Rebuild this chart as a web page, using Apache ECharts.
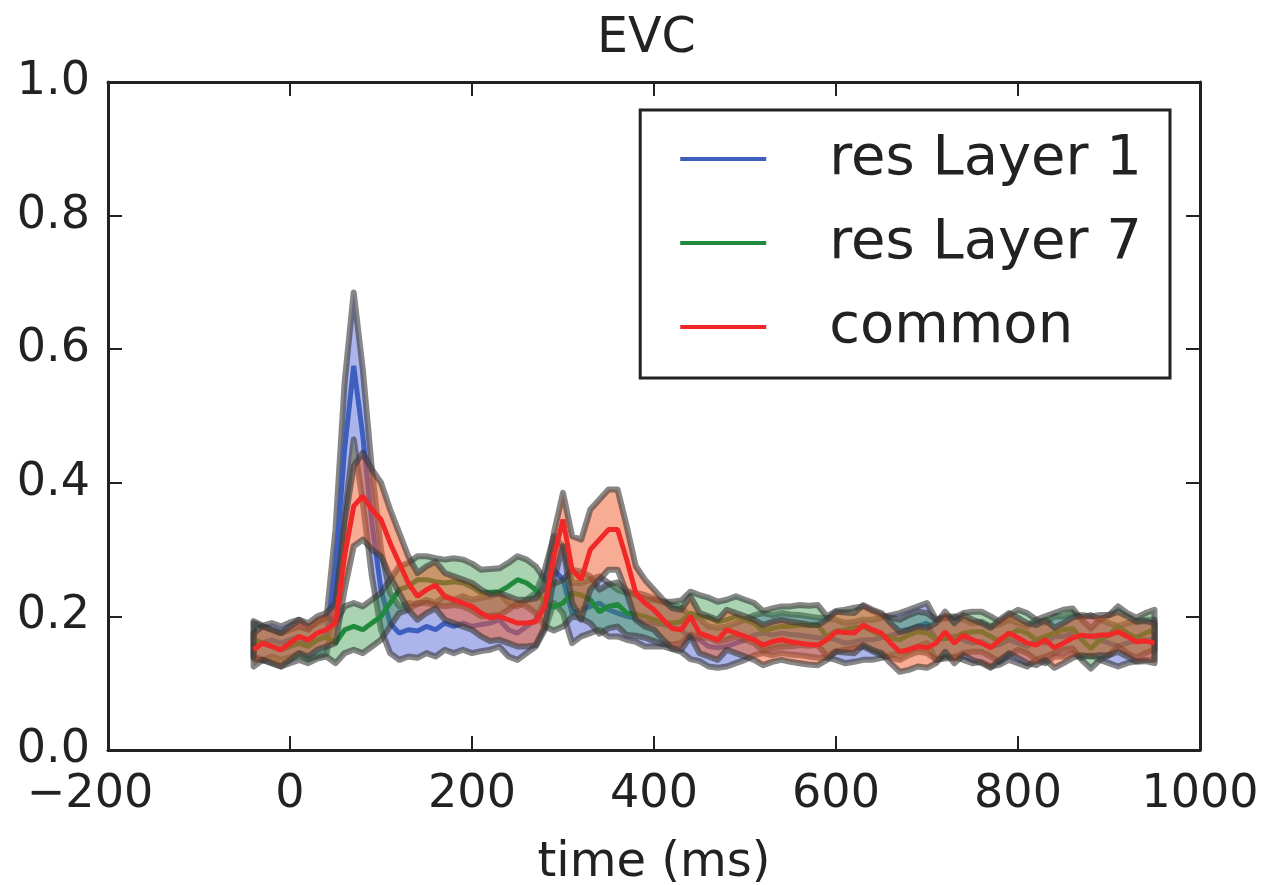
<!DOCTYPE html>
<html>
<head>
<meta charset="utf-8">
<script src="https://cdn.jsdelivr.net/npm/echarts@6/dist/echarts.min.js"></script>
<style>
html, body { margin: 0; padding: 0; background: #fff; }
#main { width: 1268px; height: 885px; }
</style>
</head>
<body>
<div id="main"></div>
<script>
// sample grid: -40 .. 950 ms, every 10 ms
var t0 = -40, step = 10, nPts = 100;
var time = [];
for (var i = 0; i < nPts; i++) time.push(t0 + i * step);

// res Layer 1 (blue) mean and half band width
var layer1 = [0.165,0.16,0.165,0.16,0.165,0.17,0.16,0.165,0.17,0.27,
	0.45,0.575,0.47,0.34,0.24,0.19,0.175,0.18,0.178,0.185,
	0.18,0.19,0.185,0.19,0.185,0.188,0.19,0.195,0.18,0.175,
	0.185,0.195,0.225,0.27,0.255,0.205,0.21,0.215,0.22,0.21,
	0.205,0.2,0.197,0.19,0.19,0.188,0.184,0.18,0.168,0.165,
	0.155,0.153,0.155,0.16,0.165,0.172,0.175,0.172,0.175,0.173,
	0.172,0.17,0.168,0.168,0.165,0.16,0.162,0.165,0.165,0.168,
	0.172,0.175,0.18,0.185,0.19,0.165,0.17,0.17,0.165,0.16,
	0.162,0.155,0.158,0.165,0.16,0.155,0.165,0.16,0.17,0.17,
	0.175,0.168,0.172,0.165,0.16,0.155,0.16,0.163,0.165,0.165];
var layer1Err = [0.028,0.026,0.025,0.025,0.026,0.025,0.024,0.025,0.026,0.06,
	0.1,0.11,0.1,0.08,0.06,0.045,0.04,0.04,0.04,0.04,
	0.04,0.04,0.04,0.04,0.04,0.04,0.04,0.04,0.04,0.04,
	0.04,0.04,0.045,0.05,0.05,0.045,0.04,0.04,0.04,0.04,
	0.035,0.035,0.035,0.035,0.035,0.033,0.033,0.033,0.032,0.032,
	0.03,0.03,0.03,0.03,0.03,0.03,0.03,0.03,0.03,0.03,
	0.03,0.03,0.03,0.03,0.03,0.03,0.03,0.03,0.03,0.03,
	0.03,0.03,0.03,0.03,0.03,0.03,0.03,0.03,0.03,0.03,
	0.03,0.03,0.03,0.03,0.03,0.03,0.03,0.03,0.03,0.03,
	0.03,0.03,0.03,0.03,0.03,0.03,0.03,0.03,0.03,0.03];

// res Layer 7 (green)
var layer7 = [0.165,0.16,0.155,0.15,0.155,0.16,0.155,0.165,0.17,0.16,
	0.18,0.185,0.18,0.19,0.2,0.22,0.24,0.245,0.255,0.255,
	0.252,0.25,0.252,0.25,0.244,0.235,0.236,0.237,0.245,0.255,
	0.25,0.24,0.22,0.214,0.22,0.235,0.232,0.225,0.207,0.215,
	0.218,0.205,0.203,0.2,0.195,0.19,0.19,0.192,0.205,0.2,
	0.198,0.192,0.195,0.2,0.195,0.19,0.178,0.182,0.185,0.185,
	0.187,0.186,0.187,0.17,0.178,0.18,0.183,0.185,0.178,0.172,
	0.168,0.165,0.172,0.177,0.175,0.165,0.167,0.168,0.175,0.177,
	0.177,0.17,0.162,0.172,0.18,0.175,0.165,0.17,0.175,0.18,
	0.182,0.165,0.152,0.165,0.172,0.185,0.175,0.168,0.175,0.18];
var layer7Err = [0.025,0.025,0.025,0.025,0.025,0.025,0.025,0.028,0.03,0.03,
	0.035,0.035,0.035,0.035,0.035,0.035,0.035,0.035,0.035,0.035,
	0.035,0.035,0.035,0.035,0.035,0.035,0.035,0.035,0.035,0.035,
	0.035,0.035,0.035,0.035,0.035,0.035,0.035,0.035,0.033,0.033,
	0.033,0.033,0.032,0.032,0.032,0.032,0.032,0.032,0.032,0.032,
	0.03,0.03,0.03,0.03,0.03,0.03,0.03,0.03,0.03,0.03,
	0.03,0.03,0.03,0.03,0.03,0.03,0.03,0.03,0.03,0.03,
	0.03,0.03,0.03,0.03,0.03,0.03,0.03,0.03,0.03,0.03,
	0.03,0.03,0.03,0.03,0.03,0.03,0.03,0.03,0.03,0.03,
	0.03,0.03,0.03,0.03,0.03,0.03,0.03,0.03,0.03,0.03];

// common (red)
var common = [0.15,0.16,0.155,0.15,0.16,0.17,0.165,0.175,0.18,0.19,
	0.29,0.365,0.38,0.36,0.345,0.31,0.28,0.25,0.23,0.24,
	0.247,0.23,0.225,0.22,0.215,0.205,0.198,0.2,0.195,0.19,
	0.19,0.192,0.215,0.29,0.345,0.27,0.255,0.3,0.315,0.33,
	0.33,0.285,0.235,0.22,0.21,0.195,0.182,0.18,0.2,0.175,
	0.17,0.165,0.18,0.175,0.17,0.165,0.157,0.162,0.165,0.162,
	0.16,0.158,0.157,0.165,0.177,0.176,0.175,0.187,0.18,0.175,
	0.16,0.147,0.15,0.155,0.153,0.16,0.177,0.16,0.172,0.165,
	0.16,0.153,0.165,0.175,0.168,0.16,0.157,0.165,0.153,0.16,
	0.168,0.172,0.17,0.172,0.172,0.177,0.17,0.162,0.163,0.16];
var commonErr = [0.025,0.025,0.025,0.025,0.025,0.025,0.025,0.025,0.025,0.03,
	0.05,0.06,0.065,0.06,0.055,0.05,0.045,0.04,0.035,0.035,
	0.035,0.035,0.035,0.035,0.035,0.035,0.035,0.035,0.035,0.035,
	0.035,0.035,0.03,0.035,0.04,0.05,0.06,0.06,0.06,0.06,
	0.06,0.05,0.04,0.035,0.03,0.03,0.03,0.03,0.03,0.03,
	0.03,0.03,0.03,0.03,0.03,0.03,0.03,0.03,0.03,0.03,
	0.03,0.03,0.03,0.03,0.03,0.03,0.03,0.03,0.03,0.03,
	0.03,0.03,0.03,0.03,0.03,0.03,0.03,0.03,0.03,0.03,
	0.03,0.03,0.03,0.03,0.03,0.03,0.03,0.03,0.03,0.03,
	0.03,0.03,0.03,0.03,0.03,0.03,0.03,0.03,0.03,0.03];

var names = ['res Layer 1', 'res Layer 7', 'common'];
var lineColors = ['#3f5fbf', '#218a3c', '#f02828'];
var fillColors = ['rgba(70,90,210,0.45)', 'rgba(50,150,70,0.42)', 'rgba(240,90,40,0.5)'];

var chart = echarts.init(document.getElementById('main'));

// shaded band drawn as one polygon (upper edge forward, lower edge back)
function band(mean, err, fill, z) {
	var data = [];
	for (var i = 0; i < time.length; i++) data.push([time[i], mean[i] - err[i], mean[i] + err[i]]);
	return {
		type: 'custom',
		silent: true,
		z: z,
		data: data,
		encode: { x: 0, y: [1, 2] },
		renderItem: function (params, api) {
			if (params.dataIndex !== 0) return null;
			var up = [], lo = [];
			for (var k = 0; k < data.length; k++) {
				up.push(api.coord([data[k][0], data[k][2]]));
				lo.unshift(api.coord([data[k][0], data[k][1]]));
			}
			return {
				type: 'polygon',
				shape: { points: up.concat(lo) },
				style: { fill: fill, stroke: 'rgba(55,55,55,0.6)', lineWidth: 6, lineJoin: 'round' }
			};
		}
	};
}

function meanLine(name, mean, color, z) {
	var data = [];
	for (var i = 0; i < time.length; i++) data.push([time[i], mean[i]]);
	return {
		type: 'line', name: name, data: data, z: z,
		showSymbol: false, animation: false,
		lineStyle: { color: color, width: 5 },
		itemStyle: { color: color }
	};
}

var means = [layer1, layer7, common];
var errs = [layer1Err, layer7Err, commonErr];
var series = [];
for (var s = 0; s < 3; s++) {
	series.push(band(means[s], errs[s], fillColors[s], 2 + s * 2));
	series.push(meanLine(names[s], means[s], lineColors[s], 3 + s * 2));
}

var axisBase = {
	axisLine: { show: true, onZero: false, lineStyle: { color: '#222', width: 3 } },
	axisTick: { show: true, inside: true, length: 14, lineStyle: { color: '#222', width: 2 } },
	splitLine: { show: false }
};

option = {
	animation: false,
	backgroundColor: '#fff',
	title: {
		text: 'EVC',
		left: 592, top: 10,
		textStyle: { fontFamily: 'DejaVu Sans', fontWeight: 'normal', fontSize: 49, color: '#222' }
	},
	grid: { left: 108, right: 68, top: 82, bottom: 135, outerBoundsMode: 'none' },
	legend: {
		data: names,
		orient: 'vertical',
		right: 98, top: 110,
		backgroundColor: '#fff',
		borderColor: '#222', borderWidth: 3, borderRadius: 0,
		padding: [18, 28, 20, 40],
		itemWidth: 86, itemHeight: 4, itemGap: 22,
		icon: 'rect',
		textStyle: { fontFamily: 'DejaVu Sans', fontSize: 56, color: '#222', lineHeight: 62, padding: [0, 0, 0, 58] }
	},
	xAxis: [
		Object.assign({}, axisBase, {
			type: 'value', position: 'bottom', min: -200, max: 1000, interval: 200,
			name: 'time (ms)', nameLocation: 'middle', nameGap: 90,
			nameTextStyle: { fontFamily: 'DejaVu Sans', fontSize: 48, color: '#222' },
			axisLabel: {
				margin: 22, fontFamily: 'DejaVu Sans', fontSize: 46, color: '#222',
				formatter: function (v) {
					var s = String(v).replace('-', '\u2212');
					return v === -200 ? '{l|' + s + '}' : s;
				},
				rich: { l: { fontFamily: 'DejaVu Sans', fontSize: 46, color: '#222', padding: [0, 36, 0, 0] } }
			}
		}),
		Object.assign({}, axisBase, {
			type: 'value', position: 'top', min: -200, max: 1000, interval: 200,
			axisLabel: { show: false }
		})
	],
	yAxis: [
		Object.assign({}, axisBase, {
			type: 'value', position: 'left', min: 0, max: 1, interval: 0.2,
			axisLabel: {
				margin: 18, fontFamily: 'DejaVu Sans', fontSize: 46, color: '#222',
				formatter: function (v) { return v.toFixed(1); }
			}
		}),
		Object.assign({}, axisBase, {
			type: 'value', position: 'right', min: 0, max: 1, interval: 0.2,
			axisLabel: { show: false }
		})
	],
	series: series
};

chart.setOption(option);
</script>
</body>
</html>
